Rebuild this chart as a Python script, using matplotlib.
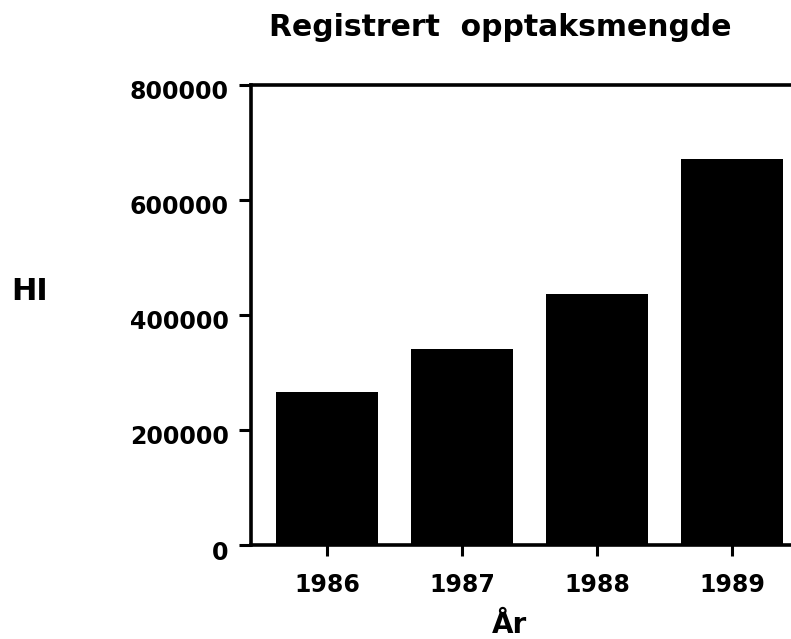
import matplotlib
matplotlib.use("Agg")
import matplotlib.pyplot as plt
import matplotlib.transforms as mtransforms

# data
years = [1986, 1987, 1988, 1989]
volumes = [266000, 341000, 437000, 671000]
yticks = [0, 200000, 400000, 600000, 800000]

W, H = 791, 639
fig = plt.figure(figsize=(W / 100, H / 100), dpi=100)
fig.patch.set_facecolor("white")

# axes box in pixels: left spine at x=251, top at y=85, zero line at y=545
ax = fig.add_axes([251 / W, 1 - 545 / H, (W - 251) / W, 460 / H])

ax.bar(years, volumes, width=0.755, color="black", zorder=3)

ax.set_xlim(1986 - 76 / 135, 1986 + (W - 327) / 135)
ax.set_ylim(0, 800000)
ax.set_xticks(years)
ax.set_xticklabels([str(y) for y in years])
ax.set_yticks(yticks)
ax.set_yticklabels([str(v) for v in yticks])

for side in ["left", "bottom", "top"]:
    ax.spines[side].set_linewidth(2.6)
    ax.spines[side].set_color("black")
ax.spines["right"].set_visible(False)

ax.tick_params(axis="y", direction="out", length=9, width=2.2, pad=7,
               labelsize=17)
ax.tick_params(axis="x", direction="out", length=8, width=2.2, pad=12,
               labelsize=17)
for lab in ax.get_xticklabels() + ax.get_yticklabels():
    lab.set_fontfamily("DejaVu Sans")
    lab.set_fontweight("bold")

# y labels sit a little below their ticks in the original
shift = mtransforms.ScaledTranslation(0, -5 / 100, fig.dpi_scale_trans)
for lab in ax.get_yticklabels():
    lab.set_transform(lab.get_transform() + shift)

fig.text(500 / W, 1 - 27 / H, "Registrert  opptaksmengde", ha="center",
         va="center", fontsize=21.5, fontweight="bold", family="DejaVu Sans")
fig.text(30 / W, 1 - 292 / H, "HI", ha="center", va="center",
         fontsize=22, fontweight="bold", family="DejaVu Sans")
fig.text(510 / W, 1 - 625 / H, "År", ha="center", va="center",
         fontsize=20, fontweight="bold", family="DejaVu Sans")

fig.savefig("out.png", dpi=100, facecolor="white")
